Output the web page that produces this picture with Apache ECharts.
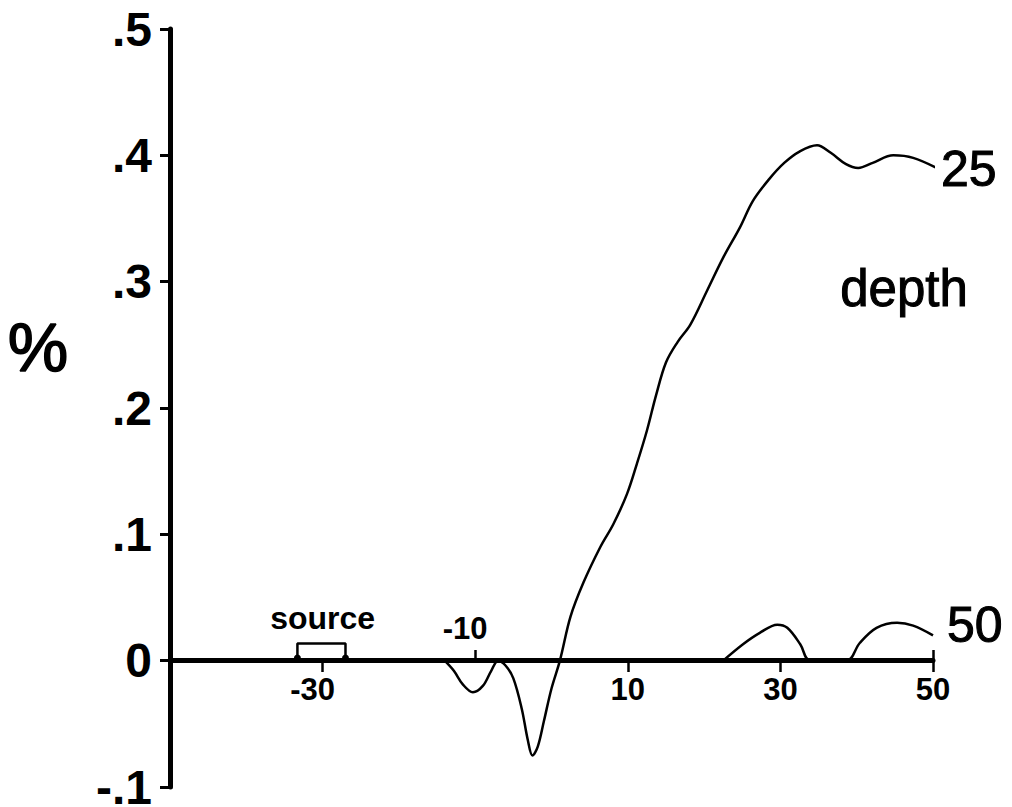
<!DOCTYPE html>
<html>
<head>
<meta charset="utf-8">
<title>depth profile</title>
<script src="https://cdn.jsdelivr.net/npm/echarts@6/dist/echarts.min.js"></script>
<style>
  html, body { margin: 0; padding: 0; background: #fff; }
  #chart { width: 1012px; height: 807px; }
</style>
</head>
<body>
<div id="chart"></div>
<script>
// Profile at 25 depth (percent change vs. horizontal position)
const depth25 = [
  [-14, 0], [-12.8, -0.008], [-11.6, -0.019], [-10.3, -0.025], [-9.0, -0.02],
  [-7.9, -0.008], [-7.0, 0], [-6.0, -0.004], [-5.0, -0.014], [-3.9, -0.038],
  [-3.1, -0.063], [-2.5, -0.075], [-1.8, -0.068], [-1.0, -0.048], [0.0, -0.022],
  [1.1, 0], [2.5, 0.035], [4.2, 0.062], [6.4, 0.09], [8.1, 0.108],
  [9.9, 0.132], [11.2, 0.156], [12.5, 0.182], [13.7, 0.21], [15.0, 0.236],
  [16.5, 0.252], [18.2, 0.266], [20.4, 0.293], [22.5, 0.319], [24.7, 0.343],
  [26.4, 0.364], [28.5, 0.381], [30.5, 0.394], [32.5, 0.403], [34.8, 0.408],
  [36.6, 0.402], [38.6, 0.393], [40.2, 0.39], [42.1, 0.394], [44.8, 0.4],
  [47.4, 0.398], [50.8, 0.389]
];

// Profile at 50 depth
const depth50 = [
  [22.5, 0], [25.1, 0.013], [27.3, 0.022], [29.6, 0.0285], [30.9, 0.026],
  [32.6, 0.013], [33.9, 0], [38.7, 0], [40.4, 0.014], [42.6, 0.026],
  [45.3, 0.03], [47.4, 0.0277], [50, 0.02]
];

// Extent of the source, drawn as a bracket on the axis
const sourceSpan = [
  [-33.3, 0.002], [-33.3, 0.0135], [-27, 0.0135], [-27, 0.002]
];
const sourceCenter = [[-30, 0.0135]];

// Tick positions / labels
const xTicksBelow = [-30, 10, 30, 50];
const xTicksAbove = [-10, 50];
const xLabelsBelow = [-30, 10, 30, 50];
const xLabelsAbove = [-10];
const seriesNames = ['25', '50'];
const sourceLabel = 'source';
const sideLabel = 'depth';
const yName = '%';

const FONT = '"Liberation Sans", Arial, Helvetica, sans-serif';
const INK = '#000';

function xLabelFmt(v) {
  const t = String(Math.round(v));
  return v < 0 ? '{n|' + t + '}' : '{p|' + t + '}';
}
const xRich = {
  n: { fontSize: 31, fontWeight: 'bold', fontFamily: FONT, color: INK, padding: [0, 20, 0, 0] },
  p: { fontSize: 31, fontWeight: 'bold', fontFamily: FONT, color: INK }
};

function yLabelFmt(v) {
  const r = Math.round(v * 10);
  if (r === 0) return '0';
  return (r < 0 ? '-' : '') + '.' + Math.abs(r);
}

// heavier strokes for the large annotation text
const heavy = { textBorderColor: INK, textBorderWidth: 1 };

const PLOT = { left: 170, right: 79, top: 29, bottom: 20 };

const chart = echarts.init(document.getElementById('chart'), null, { renderer: 'svg' });

chart.setOption({
  backgroundColor: '#fff',
  animation: false,
  grid: [
    // plotting area, -0.1 .. 0.5
    { left: PLOT.left, right: PLOT.right, top: PLOT.top, bottom: PLOT.bottom, containLabel: false, outerBoundsMode: 'none' },
    // band whose lower edge is the zero line, carries the horizontal axis
    { left: PLOT.left, right: PLOT.right, top: PLOT.top, bottom: 147, containLabel: false, outerBoundsMode: 'none' }
  ],
  xAxis: [
    {
      gridIndex: 0, type: 'value', min: -50, max: 50, interval: 20,
      axisLine: { show: false, onZero: false }, axisTick: { show: false },
      axisLabel: { show: false }, splitLine: { show: false }
    },
    {
      gridIndex: 1, type: 'value', min: -50, max: 50, interval: 20, position: 'bottom',
      splitLine: { show: false },
      axisLine: { show: true, onZero: false, lineStyle: { color: INK, width: 5 } },
      axisTick: { show: true, customValues: xTicksBelow, length: 12, lineStyle: { color: INK, width: 2.5 } },
      axisLabel: {
        show: true, customValues: xLabelsBelow, margin: 14,
        fontSize: 31, fontWeight: 'bold', fontFamily: FONT, color: INK,
        formatter: xLabelFmt, rich: xRich
      }
    },
    {
      gridIndex: 1, type: 'value', min: -50, max: 50, interval: 20, position: 'bottom',
      splitLine: { show: false },
      axisLine: { show: false, onZero: false },
      axisTick: { show: true, inside: true, customValues: xTicksAbove, length: 10, lineStyle: { color: INK, width: 2.5 } },
      axisLabel: {
        show: true, inside: true, customValues: xLabelsAbove, margin: 16,
        fontSize: 31, fontWeight: 'bold', fontFamily: FONT, color: INK,
        formatter: xLabelFmt, rich: xRich
      }
    }
  ],
  yAxis: [
    {
      gridIndex: 0, type: 'value', min: -0.1, max: 0.5, interval: 0.1,
      splitLine: { show: false },
      axisLine: { show: true, onZero: false, lineStyle: { color: INK, width: 5 } },
      axisTick: { show: true, length: 10, lineStyle: { color: INK, width: 3 } },
      axisLabel: {
        margin: 18, fontSize: 48, lineHeight: 38, fontWeight: 'bold', fontFamily: FONT, color: INK,
        formatter: yLabelFmt
      }
    },
    {
      gridIndex: 1, type: 'value', min: 0, max: 1, show: false,
      axisLine: { show: false, onZero: false }, splitLine: { show: false }
    }
  ],
  series: [
    {
      name: seriesNames[0], type: 'line', data: depth25, smooth: 0.35,
      xAxisIndex: 0, yAxisIndex: 0,
      showSymbol: false, clip: false,
      lineStyle: { color: INK, width: 2.5 },
      endLabel: Object.assign({
        show: true, formatter: seriesNames[0], distance: 6, offset: [0, 2],
        fontSize: 50, fontFamily: FONT, color: INK
      }, heavy)
    },
    {
      name: seriesNames[1], type: 'line', data: depth50, smooth: 0.35,
      xAxisIndex: 0, yAxisIndex: 0,
      showSymbol: false, clip: false,
      lineStyle: { color: INK, width: 2.5 },
      endLabel: Object.assign({
        show: true, formatter: seriesNames[1], distance: 14, offset: [0, -10],
        fontSize: 50, fontFamily: FONT, color: INK
      }, heavy)
    },
    {
      name: 'sourceBracket', type: 'line', smooth: false,
      xAxisIndex: 0, yAxisIndex: 0,
      data: sourceSpan.map(function (p, i) {
        const ends = (i === 0 || i === sourceSpan.length - 1);
        return { value: p, symbol: ends ? 'circle' : 'none', symbolSize: ends ? 7 : 0 };
      }),
      showSymbol: true,
      itemStyle: { color: INK },
      lineStyle: { color: INK, width: 2.5 }
    },
    {
      name: 'sourceLabel', type: 'scatter', data: sourceCenter,
      xAxisIndex: 0, yAxisIndex: 0,
      symbol: 'circle', symbolSize: 1,
      itemStyle: { color: 'rgba(0,0,0,0)', opacity: 1 },
      label: {
        show: true, position: 'top', distance: 9, formatter: sourceLabel,
        fontSize: 32, fontWeight: 'bold', fontFamily: FONT, color: INK
      }
    }
  ],
  graphic: [
    {
      type: 'text', x: 38, y: 347,
      style: Object.assign({
        text: yName, fontSize: 68, fontFamily: FONT, fill: INK,
        align: 'center', verticalAlign: 'middle'
      }, { stroke: INK, lineWidth: 1.5 })
    },
    {
      type: 'text', x: 904, y: 288,
      style: Object.assign({
        text: sideLabel, fontSize: 51, fontFamily: FONT, fill: INK,
        align: 'center', verticalAlign: 'middle'
      }, { stroke: INK, lineWidth: 1 })
    }
  ]
});
</script>
</body>
</html>
